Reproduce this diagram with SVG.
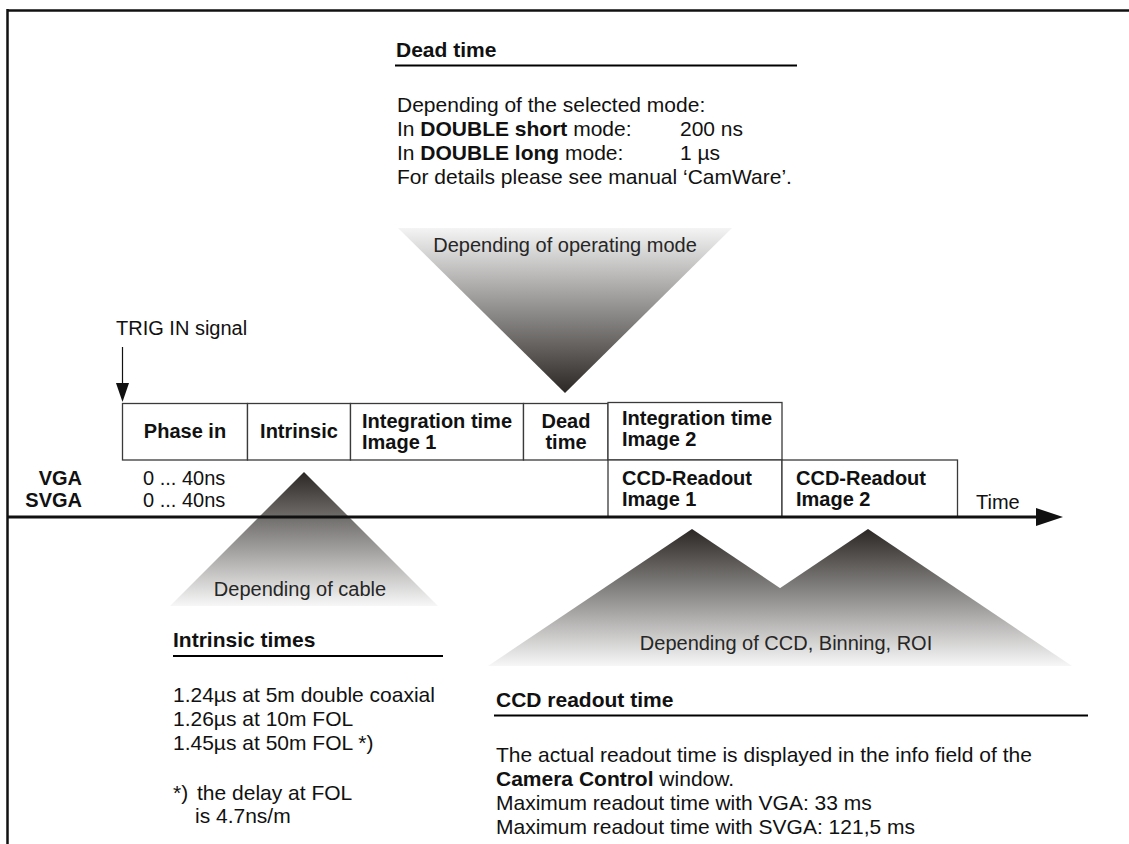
<svg xmlns="http://www.w3.org/2000/svg" width="1129" height="844" viewBox="0 0 1129 844">
<style>
text{font-family:"Liberation Sans",Arial,sans-serif;fill:#111}
.b{font-weight:bold}
.s21{font-size:21px}
.s20{font-size:20px}
.box{fill:#fff;stroke:#3a3a3a;stroke-width:1.3}
.gt{fill:#262626;font-size:20px}
.rule{stroke:#000;stroke-width:2.2}
</style>
<defs>
<linearGradient id="gDown" x1="0" y1="0" x2="0" y2="1">
<stop offset="0" stop-color="#f4f4f4"/>
<stop offset="1" stop-color="#2b2724"/>
</linearGradient>
<linearGradient id="gUp" x1="0" y1="0" x2="0" y2="1">
<stop offset="0" stop-color="#2b2724"/>
<stop offset="1" stop-color="#f7f7f7"/>
</linearGradient>
<linearGradient id="gCCD" gradientUnits="userSpaceOnUse" x1="0" y1="529" x2="0" y2="666">
<stop offset="0" stop-color="#2b2724"/>
<stop offset="1" stop-color="#f7f7f7"/>
</linearGradient>
<marker id="ah" markerWidth="10" markerHeight="10" refX="0" refY="0" orient="auto" markerUnits="userSpaceOnUse" viewBox="-1 -10 30 20" overflow="visible">
<path d="M0,-9 L25,0 L0,9 Z" fill="#111"/>
</marker>
</defs>

<g id="frame">
<line x1="7" y1="10.5" x2="1129" y2="10.5" stroke="#111" stroke-width="2.5"/>
<line x1="7.5" y1="9" x2="7.5" y2="844" stroke="#111" stroke-width="2.5"/>
</g>

<g id="triangles">
<polygon id="tri-operating" points="398,228 732,228 565,393" fill="url(#gDown)"/>
<polygon id="tri-cable" points="304,472 170,606 438,606" fill="url(#gUp)"/>
<polygon id="tri-ccd1" points="692,529 488,666 896,666" fill="url(#gCCD)"/>
<polygon id="tri-ccd2" points="868,529 664,666 1072,666" fill="url(#gCCD)"/>
<text class="gt" x="565" y="252" text-anchor="middle">Depending of operating mode</text>
<text class="gt" x="300" y="596" text-anchor="middle">Depending of cable</text>
<text class="gt" x="786" y="650" text-anchor="middle">Depending of CCD, Binning, ROI</text>
</g>

<g id="dead-time-note">
<text class="b s21" x="396" y="57">Dead time</text>
<line class="rule" x1="395" y1="65.5" x2="797" y2="65.5"/>
<text class="s21" x="397" y="112">Depending of the selected mode:</text>
<text class="s21" x="397" y="136">In <tspan class="b">DOUBLE short</tspan> mode:</text>
<text class="s21" x="680" y="136">200 ns</text>
<text class="s21" x="397" y="160">In <tspan class="b">DOUBLE long</tspan> mode:</text>
<text class="s21" x="680" y="160">1 µs</text>
<text class="s21" x="397" y="184">For details please see manual ‘CamWare’.</text>
</g>

<g id="trig-in">
<text class="s20" x="116" y="335">TRIG IN signal</text>
</g>

<g id="box-phase-in">
<rect class="box" x="122.5" y="403.5" width="125" height="56.5"/>
<text class="b s20" x="185" y="438" text-anchor="middle">Phase in</text>
</g>
<g id="box-intrinsic">
<rect class="box" x="247.5" y="403.5" width="103" height="56.5"/>
<text class="b s20" x="299" y="438" text-anchor="middle">Intrinsic</text>
</g>
<g id="box-integration-1">
<rect class="box" x="350.5" y="403.5" width="173" height="56.5"/>
<text class="b s20" x="362" y="428">Integration time</text>
<text class="b s20" x="362" y="449">Image 1</text>
</g>
<g id="box-dead-time">
<rect class="box" x="523.5" y="403.5" width="84.5" height="56.5"/>
<text class="b s20" x="566" y="428" text-anchor="middle">Dead</text>
<text class="b s20" x="566" y="449" text-anchor="middle">time</text>
</g>
<g id="box-integration-2">
<rect class="box" x="608" y="402.5" width="174" height="57.5"/>
<text class="b s20" x="622" y="425">Integration time</text>
<text class="b s20" x="622" y="446">Image 2</text>
</g>
<g id="box-ccd-1">
<rect class="box" x="608" y="460" width="174" height="57"/>
<text class="b s20" x="622" y="485">CCD-Readout</text>
<text class="b s20" x="622" y="506">Image 1</text>
</g>
<g id="box-ccd-2">
<rect class="box" x="782" y="460" width="175.5" height="57"/>
<text class="b s20" x="796" y="485">CCD-Readout</text>
<text class="b s20" x="796" y="506">Image 2</text>
</g>

<g id="row-labels">
<text class="b s20" x="82" y="485" text-anchor="end">VGA</text>
<text class="b s20" x="82" y="507" text-anchor="end">SVGA</text>
<text class="s20" x="143" y="485">0 ... 40ns</text>
<text class="s20" x="143" y="507">0 ... 40ns</text>
<text class="s20" x="976" y="509">Time</text>
</g>

<g id="connectors">
<line x1="122.5" y1="347" x2="122.5" y2="385" stroke="#111" stroke-width="1.2"/>
<polygon points="116,383 129,383 122.5,402" fill="#111"/>
<line x1="8" y1="517" x2="1038" y2="517" stroke="#111" stroke-width="3"/>
<polygon points="1036,508 1063,517 1036,526" fill="#111"/>
</g>

<g id="intrinsic-note">
<text class="b s21" x="173" y="647">Intrinsic times</text>
<line class="rule" x1="173" y1="656" x2="443" y2="656"/>
<text class="s21" x="173" y="702">1.24µs at 5m double coaxial</text>
<text class="s21" x="173" y="726">1.26µs at 10m FOL</text>
<text class="s21" x="173" y="750">1.45µs at 50m FOL *)</text>
<text class="s21" x="173" y="800">*)</text>
<text class="s21" x="197" y="800">the delay at FOL</text>
<text class="s21" x="195" y="823">is 4.7ns/m</text>
</g>

<g id="ccd-note">
<text class="b s21" x="496" y="707">CCD readout time</text>
<line class="rule" x1="494" y1="715.5" x2="1088" y2="715.5"/>
<text class="s21" x="496" y="762">The actual readout time is displayed in the info field of the</text>
<text class="s21" x="496" y="786"><tspan class="b">Camera Control</tspan> window.</text>
<text class="s21" x="496" y="810">Maximum readout time with VGA: 33 ms</text>
<text class="s21" x="496" y="834">Maximum readout time with SVGA: 121,5 ms</text>
</g>
</svg>
